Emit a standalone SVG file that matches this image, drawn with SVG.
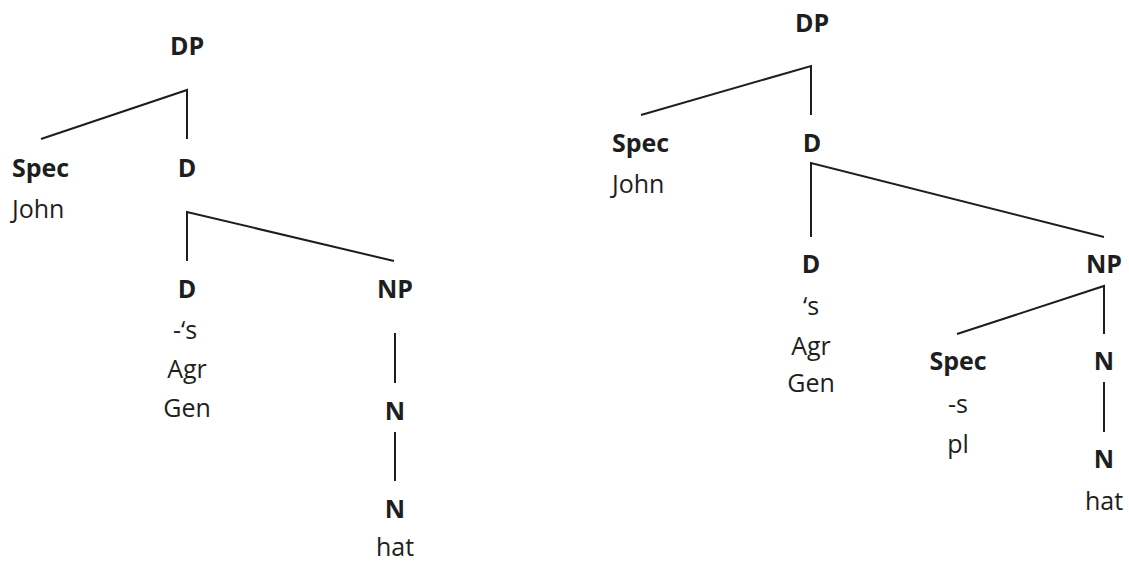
<svg xmlns="http://www.w3.org/2000/svg" width="1129" height="563" viewBox="0 0 1129 563">
  <style>
    text { font-family: "Open Sans", "Noto Sans", sans-serif; font-size: 25px; fill: #1e1e1e; }
    .cat { font-weight: bold; }
    .mid { text-anchor: middle; }
    .edge { stroke: #1e1e1e; stroke-width: 2; fill: none; }
  </style>
  <rect width="1129" height="563" fill="#ffffff"/>

  <!-- Left tree: branches -->
  <g id="edges-left">
    <polyline class="edge" points="41,139 187,90 187,139"/>
    <polyline class="edge" points="187,261 187,212 394,261"/>
    <line class="edge" x1="395" y1="333" x2="395" y2="383"/>
    <line class="edge" x1="395" y1="432" x2="395" y2="481"/>
  </g>

  <!-- Left tree: nodes -->
  <g id="l-dp"><text class="cat mid" x="187" y="55">DP</text></g>
  <g id="l-spec">
    <text class="cat" x="12" y="177">Spec</text>
    <text x="12" y="218">John</text>
  </g>
  <g id="l-dbar"><text class="cat mid" x="187" y="177">D</text></g>
  <g id="l-d">
    <text class="cat mid" x="187" y="298">D</text>
    <text class="mid" x="185" y="339">-‘s</text>
    <text class="mid" x="187" y="378">Agr</text>
    <text class="mid" x="187" y="417">Gen</text>
  </g>
  <g id="l-np"><text class="cat mid" x="395" y="298">NP</text></g>
  <g id="l-nbar"><text class="cat mid" x="395" y="420">N</text></g>
  <g id="l-n">
    <text class="cat mid" x="395" y="518">N</text>
    <text class="mid" x="395" y="556">hat</text>
  </g>

  <!-- Right tree: branches -->
  <g id="edges-right">
    <polyline class="edge" points="641,115 811,66 811,115"/>
    <polyline class="edge" points="811,237 811,163 1104,237"/>
    <polyline class="edge" points="957,334 1104,286 1104,334"/>
    <line class="edge" x1="1104" y1="382" x2="1104" y2="432"/>
  </g>

  <!-- Right tree: nodes -->
  <g id="r-dp"><text class="cat mid" x="812" y="32">DP</text></g>
  <g id="r-spec">
    <text class="cat" x="612" y="152">Spec</text>
    <text x="612" y="193">John</text>
  </g>
  <g id="r-dbar"><text class="cat mid" x="812" y="152">D</text></g>
  <g id="r-d">
    <text class="cat mid" x="811" y="273">D</text>
    <text class="mid" x="811" y="315">‘s</text>
    <text class="mid" x="811" y="355">Agr</text>
    <text class="mid" x="811" y="392">Gen</text>
  </g>
  <g id="r-np"><text class="cat mid" x="1104" y="273">NP</text></g>
  <g id="r-spec2">
    <text class="cat mid" x="958" y="370">Spec</text>
    <text class="mid" x="958" y="413">-s</text>
    <text class="mid" x="958" y="453">pl</text>
  </g>
  <g id="r-nbar"><text class="cat mid" x="1104" y="370">N</text></g>
  <g id="r-n">
    <text class="cat mid" x="1104" y="468">N</text>
    <text class="mid" x="1104" y="510">hat</text>
  </g>
</svg>
